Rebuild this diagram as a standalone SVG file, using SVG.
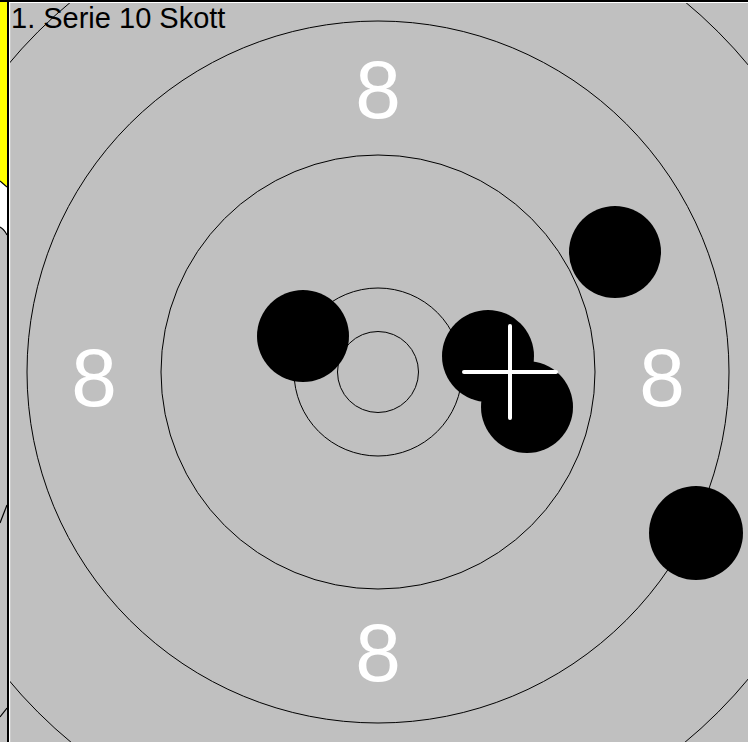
<svg xmlns="http://www.w3.org/2000/svg" width="748" height="742" viewBox="0 0 748 742">
<style>
.ring{fill:none;stroke:#000;stroke-width:1}
.shot{fill:#000}
.num{font-family:"Liberation Sans",Arial,sans-serif;font-size:82px;fill:#fff;text-anchor:middle}
.title{font-family:"Liberation Sans",Arial,sans-serif;font-size:29px;fill:#000}
.edge{fill:none;stroke:#000;stroke-width:1.2}
.cross{stroke:#fff;stroke-width:4;stroke-linecap:round}
</style>
<defs>
<clipPath id="main"><rect x="10" y="3" width="738" height="739"/></clipPath>
<clipPath id="side"><rect x="0" y="0" width="7" height="742"/></clipPath>
</defs>
<rect x="0" y="0" width="748" height="742" fill="#c0c0c0"/>
<g id="side-panel" clip-path="url(#side)">
<path d="M0 0 H7 V187 L0 181 Z" fill="#ffff00"/>
<path d="M0 181 L7 187 V235 L0 227 Z" fill="#fff"/>
<path class="edge" d="M0 181 L7 187"/>
<path class="edge" d="M0 227 Q4 229 7 235"/>
<path class="edge" d="M0 523 L7 505"/>
<path class="edge" d="M0 717 L7 708"/>
</g>
<rect x="7" y="0" width="2" height="742" fill="#000"/>
<rect x="9" y="2" width="1.2" height="740" fill="#fff"/>
<rect x="0" y="0" width="748" height="2" fill="#000"/>
<rect x="9" y="2" width="739" height="1" fill="#fff"/>
<g id="target" clip-path="url(#main)">
<g id="rings">
<circle class="ring" cx="378" cy="372" r="481"/>
<circle class="ring" cx="378" cy="372" r="351"/>
<circle class="ring" cx="378" cy="372" r="217"/>
<circle class="ring" cx="378" cy="372" r="84"/>
<circle class="ring" cx="378" cy="372" r="40.5"/>
</g>
<g id="ring-numbers">
<text class="num" x="378" y="118">8</text>
<text class="num" x="94" y="406">8</text>
<text class="num" x="662" y="406">8</text>
<text class="num" x="378" y="681">8</text>
</g>
<g id="shots">
<circle id="shot1" class="shot" cx="303" cy="336" r="46"/>
<circle id="shot2" class="shot" cx="615" cy="252" r="46"/>
<circle id="shot3" class="shot" cx="488" cy="356" r="46"/>
<circle id="shot4" class="shot" cx="527" cy="407" r="46"/>
<circle id="shot5" class="shot" cx="696" cy="533" r="47"/>
</g>
<g id="connectors">
<line class="cross" x1="510" y1="326" x2="510" y2="418"/>
<line class="cross" x1="464" y1="372" x2="556" y2="372"/>
</g>
<text id="title" class="title" x="11" y="28">1. Serie 10 Skott</text>
</g>
</svg>
